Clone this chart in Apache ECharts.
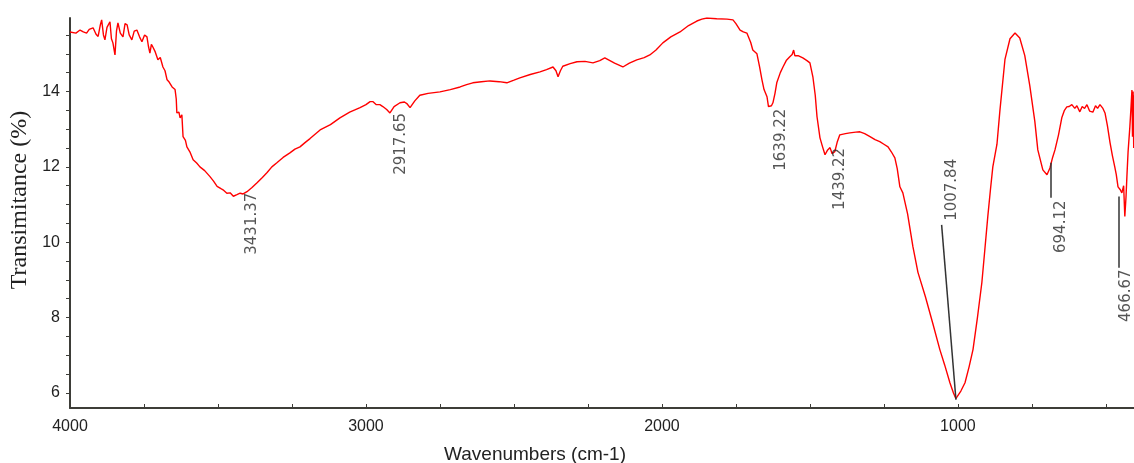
<!DOCTYPE html>
<html>
<head>
<meta charset="utf-8">
<script src="https://cdn.jsdelivr.net/npm/echarts@6/dist/echarts.min.js"></script>
<style>
html,body{margin:0;padding:0;background:#fff;}
#chart{width:1134px;height:463px;}
</style>
</head>
<body>
<div id="chart"></div>
<script>
// ---- data ----
const wavenumbers = [
4000,3994,3980,3966,3955,3944,3935,3922,3912,3905,3898,3893,3887,3882,3875,3865,3860,3855,3848,3843,
3838,3830,3821,3814,3807,3800,3791,3783,3774,3765,3757,3748,3740,3735,3730,3725,3720,3712,3703,3695,
3686,3679,3672,3665,3655,3645,3641,3639,3632,3628,3622,3618,3610,3605,3595,3584,3572,3561,3545,3527,
3515,3503,3490,3483,3470,3459,3448,3436,3425,3415,3402,3385,3368,3350,3334,3318,3301,3280,3257,3240,
3223,3205,3189,3170,3155,3120,3088,3055,3020,3000,2986,2976,2965,2953,2943,2930,2919,2905,2885,2870,
2862,2851,2835,2818,2790,2750,2715,2682,2660,2639,2610,2581,2550,2524,2500,2480,2445,2412,2390,2368,
2358,2351,2343,2335,2310,2287,2260,2233,2210,2193,2160,2132,2110,2085,2060,2041,2020,1997,1970,1939,
1910,1882,1865,1848,1815,1780,1760,1750,1736,1725,1713,1700,1693,1679,1670,1662,1655,1645,1640,1635,
1630,1625,1618,1612,1600,1591,1580,1568,1560,1555,1551,1540,1524,1510,1500,1490,1482,1476,1466,1458,
1449,1440,1432,1425,1416,1408,1399,1380,1365,1345,1331,1315,1297,1280,1264,1250,1236,1225,1213,1205,
1196,1186,1170,1152,1135,1110,1085,1061,1045,1027,1015,1007,1003,990,976,962,949,934,919,909,
899,890,882,868,858,841,824,807,791,774,757,740,730,713,699,689,680,672,660,649,
640,632,624,615,605,598,588,580,572,564,555,544,535,528,520,510,503,495,486,478,
470,465,459,452,446,440,436,432,429,425,419,415,412,410,408,406,405
];
const transmittance = [
15.58,15.59,15.55,15.63,15.58,15.55,15.65,15.69,15.52,15.46,15.75,15.90,15.50,15.37,15.70,15.85,15.40,15.29,14.97,15.60,
15.82,15.55,15.45,15.80,15.77,15.50,15.37,15.60,15.63,15.45,15.32,15.50,15.45,15.20,15.02,15.25,15.18,15.05,14.84,14.90,
14.65,14.55,14.31,14.25,14.12,14.05,13.80,13.43,13.45,13.30,13.38,12.80,12.70,12.53,12.40,12.19,12.10,12.00,11.90,11.74,
11.62,11.48,11.42,11.39,11.30,11.31,11.22,11.26,11.30,11.28,11.34,11.45,11.58,11.72,11.85,12.00,12.11,12.25,12.37,12.47,
12.53,12.65,12.75,12.88,12.98,13.12,13.30,13.45,13.57,13.65,13.73,13.73,13.65,13.65,13.60,13.52,13.43,13.60,13.70,13.72,
13.68,13.57,13.75,13.90,13.95,13.99,14.05,14.12,14.18,14.23,14.26,14.28,14.26,14.23,14.30,14.36,14.45,14.52,14.58,14.65,
14.55,14.39,14.55,14.67,14.74,14.79,14.80,14.76,14.82,14.89,14.75,14.65,14.75,14.84,14.90,14.97,15.10,15.29,15.45,15.58,
15.75,15.87,15.92,15.95,15.93,15.92,15.90,15.80,15.63,15.58,15.55,15.30,15.10,15.00,14.65,14.31,14.05,13.86,13.60,13.57,
13.62,13.70,13.95,14.23,14.50,14.65,14.82,14.92,14.98,15.10,14.95,14.95,14.89,14.82,14.76,14.39,13.90,13.33,12.77,12.55,
12.32,12.45,12.51,12.35,12.40,12.65,12.85,12.88,12.90,12.92,12.93,12.88,12.80,12.72,12.67,12.60,12.53,12.40,12.24,11.95,
11.47,11.31,10.75,9.88,9.20,8.56,7.85,7.15,6.75,6.27,6.00,5.85,5.88,6.05,6.27,6.70,7.15,8.00,8.93,9.80,
10.68,11.40,12.00,12.60,13.50,14.85,15.40,15.55,15.42,14.95,14.15,13.20,12.45,11.92,11.79,11.97,12.25,12.45,12.85,13.30,
13.50,13.59,13.60,13.65,13.55,13.62,13.46,13.60,13.55,13.65,13.48,13.45,13.62,13.55,13.65,13.55,13.43,13.10,12.64,12.30,
12.00,11.80,11.47,11.40,11.31,11.50,10.68,11.20,11.74,12.40,13.06,13.60,14.04,12.80,14.00,12.50,13.90
];
// peak annotations: text, and label anchor (wavenumber, transmittance)
const peakLabels = ['3431.37','2917.65','1639.22','1439.22','1007.84','694.12','466.67'];
const peakLabelWn = [3386, 2882, 1596, 1399, 1021, 650, 430];
const peakLabelT  = [10.49, 12.61, 12.72, 11.68, 11.39, 10.41, 8.58];
// leader lines: [wnStart, tStart, wnEnd, tEnd]
const leaderLines = [
  [1055, 10.46, 1006.6, 5.82],
  [687, 12.11, 687, 11.18],
  [456, 11.21, 456, 9.32]
];
const xTickLabels = [4000, 3000, 2000, 1000];
const xTickMarks = [4000,3750,3500,3250,3000,2750,2500,2250,2000,1750,1500,1250,1000,750,500];
const yTickLabels = [6, 8, 10, 12, 14];
const yTickMarks = [6,6.5,7,7.5,8,8.5,9,9.5,10,10.5,11,11.5,12,12.5,13,13.5,14,14.5,15,15.5];

// ---- build chart ----
const spectrum = wavenumbers.map((w, i) => [w, transmittance[i]]);
const labelPoints = peakLabels.map((t, i) => ({ value: [peakLabelWn[i], peakLabelT[i]], name: t }));
const leaderData = leaderLines.map(l => [{ coord: [l[0], l[1]] }, { coord: [l[2], l[3]] }]);

const sans = "'Liberation Sans', Arial, sans-serif";
const axisColor = '#3d3d38';

const chart = echarts.init(document.getElementById('chart'), null, { renderer: 'canvas' });
chart.setOption({
  animation: false,
  backgroundColor: '#ffffff',
  grid: { left: 70, right: 0, top: 18, bottom: 55, containLabel: false, outerBoundsMode: 'none' },
  xAxis: {
    type: 'value',
    inverse: true,
    min: 405,
    max: 4000,
    name: 'Wavenumbers (cm-1)',
    nameLocation: 'middle',
    nameGap: 37,
    nameTextStyle: { fontFamily: sans, fontSize: 19, color: '#222', padding: [0, 134, 0, 0] },
    axisLine: { show: true, onZero: false, lineStyle: { color: axisColor, width: 2 } },
    axisTick: { show: true, inside: true, length: 4, customValues: xTickMarks, lineStyle: { color: axisColor, width: 1 } },
    axisLabel: { show: true, customValues: xTickLabels, margin: 11, fontFamily: sans, fontSize: 16, color: '#222', formatter: v => String(v) },
    splitLine: { show: false }
  },
  yAxis: {
    type: 'value',
    min: 5.6,
    max: 15.95,
    name: 'Transimitance (%)',
    nameLocation: 'middle',
    nameGap: 30,
    nameRotate: 90,
    nameTextStyle: { fontFamily: "'Liberation Serif', 'Times New Roman', serif", fontSize: 24, color: '#222', padding: [0, 0, 0, 26] },
    axisLine: { show: true, onZero: false, lineStyle: { color: axisColor, width: 2 } },
    axisTick: { show: true, inside: false, length: 4, customValues: yTickMarks, lineStyle: { color: axisColor, width: 1 } },
    axisLabel: { show: true, customValues: yTickLabels, margin: 10, fontFamily: sans, fontSize: 16, color: '#222', formatter: v => String(v) },
    splitLine: { show: false }
  },
  series: [
    {
      type: 'line',
      data: spectrum,
      showSymbol: false,
      symbol: 'none',
      lineStyle: { color: '#ff0000', width: 1.4 },
      itemStyle: { color: '#ff0000' },
      z: 3
    },
    {
      type: 'scatter',
      data: labelPoints,
      symbolSize: 0,
      silent: true,
      label: {
        show: true,
        position: 'inside',
        rotate: 90,
        formatter: p => p.name,
        fontFamily: "'DejaVu Sans', sans-serif",
        fontSize: 15,
        color: '#2a2a2a'
      },
      markLine: {
        silent: true,
        symbol: ['none', 'none'],
        label: { show: false },
        lineStyle: { color: '#333333', width: 1.5, type: 'solid' },
        data: leaderData
      },
      z: 4
    }
  ]
});
</script>
</body>
</html>
